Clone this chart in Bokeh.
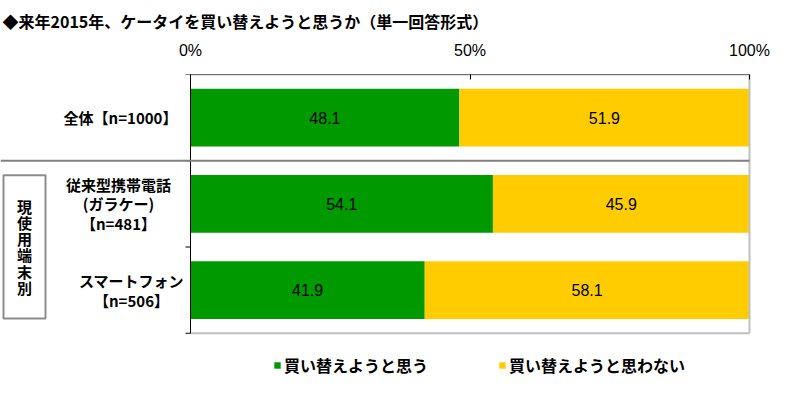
import math
from bokeh.plotting import figure
from bokeh.models import Range1d, FixedTicker, ColumnDataSource, Legend, LegendItem
from bokeh.embed import file_html
from bokeh.resources import INLINE
from bokeh.core.properties import value

# ---------------- data ----------------
title_text = "◆来年2015年、ケータイを買い替えようと思うか（単一回答形式）"
category_lines = [
    ["全体【n=1000】"],
    ["従来型携帯電話", "(ガラケー)", "【n=481】"],
    ["スマートフォン", "【n=506】"],
]
group_label = "現使用端末別"
series_names = ["買い替えようと思う", "買い替えようと思わない"]
yes_values = [48.1, 54.1, 41.9]
no_values = [51.9, 45.9, 58.1]
x_ticks = [0, 50, 100]
x_tick_labels = ["0%", "50%", "100%"]

# ---------------- layout / style ----------------
colors = ["#009900", "#FFCC00"]
JP = "Noto Sans CJK JP"
NUM = "Liberation Sans"
W, H = 786, 394
LEFT, RIGHT, TOP, BOTTOM = 190, 749, 70, 332   # chart area in canvas pixels
n = len(category_lines)
BAR_W = RIGHT - LEFT
BAND = (BOTTOM - TOP) / n


def X(px):
    return (px - LEFT) * 100 / BAR_W


def Y(py):
    return (BOTTOM - py) / BAND


ypos = [n - i - 0.5 for i in range(n)]

p = figure(width=W, height=H, output_backend="svg", toolbar_location=None,
           x_range=Range1d(X(0), X(W)), y_range=Range1d(Y(H), n),
           x_axis_location="above", y_axis_location=None,
           min_border_left=0, min_border_right=0,
           min_border_top=TOP, min_border_bottom=0)
p.xgrid.visible = False
p.ygrid.visible = False
p.outline_line_color = None
p.background_fill_color = "white"
p.border_fill_color = "white"

# title
p.title.text = title_text
p.title.align = "left"
p.title.offset = 2
p.title.text_font = JP
p.title.text_font_style = "bold"
p.title.text_font_size = "16px"
p.title.text_color = "black"
p.title.standoff = 12

# top percentage axis
xa = p.xaxis[0]
xa.ticker = FixedTicker(ticks=x_ticks)
xa.major_label_overrides = {t: l for t, l in zip(x_ticks, x_tick_labels)}
xa.major_tick_in = 5
xa.major_tick_out = 0
xa.minor_tick_line_color = None
xa.axis_line_color = None
xa.major_tick_line_color = "black"
xa.major_label_text_font = NUM
xa.major_label_text_font_size = "16px"
xa.major_label_text_color = "black"
xa.major_label_standoff = 16

# bars
src = ColumnDataSource(dict(
    y=ypos, yes=yes_values, no=no_values,
    yes_mid=[v / 2 for v in yes_values],
    no_mid=[a + b / 2 for a, b in zip(yes_values, no_values)],
    yes_txt=[f"{v:.1f}" for v in yes_values],
    no_txt=[f"{v:.1f}" for v in no_values],
))
rs = p.hbar_stack(["yes", "no"], y="y", height=0.67, color=colors,
                  line_color=None, source=src)
for xcol, tcol in (("yes_mid", "yes_txt"), ("no_mid", "no_txt")):
    p.text(x=xcol, y="y", text=tcol, source=src, text_align="center",
           text_baseline="middle", text_font=value(NUM),
           text_font_size="16px", text_color="black")

# plot-area frame
p.segment(x0=[0, 100, 0], y0=[n, 0, 0], x1=[100, 100, 100], y1=[n, n, 0],
          line_color="#C0C0C0", line_width=2)
p.segment(x0=[0, 0], y0=[n, 0], x1=[100, 0], y1=[n, n],
          line_color="black", line_width=1)
p.ray(x=[0] * (n + 1), y=list(range(n + 1)), length=5, length_units="screen",
      angle=math.pi, line_color="black", line_width=1)

# separator between total and breakdown rows
p.segment(x0=[X(0)], y0=[n - 1], x1=[100], y1=[n - 1],
          line_color="#808080", line_width=2)

# group box with vertical label
p.quad(left=[X(3)], right=[X(45)], top=[Y(172)], bottom=[Y(317)],
       fill_color=None, line_color="#8C8C8C", line_width=2)
p.text(x=[X(24)] * len(group_label),
       y=[Y(203.25 + k * 16.5) for k in range(len(group_label))],
       text=list(group_label), text_align="center", text_baseline="middle",
       text_font=value(JP), text_font_style="bold", text_font_size="15px",
       text_color="black")

# category labels
label_cx = [120, 118, 131]
pitch = 20 / BAND
lx, ly, lt = [], [], []
for i, lines in enumerate(category_lines):
    m = len(lines)
    for j, line in enumerate(lines):
        lx.append(X(label_cx[i]))
        ly.append(ypos[i] + ((m - 1) / 2 - j) * pitch)
        lt.append(line)
p.text(x=lx, y=ly, text=lt, text_align="center", text_baseline="middle",
       text_font=value(JP), text_font_style="bold", text_font_size="15px",
       text_color="black")

legend = Legend(items=[LegendItem(label=series_names[i], renderers=[rs[i]])
                       for i in range(2)],
                orientation="horizontal", location=(273, 17),
                glyph_width=8, glyph_height=8, label_standoff=3,
                spacing=70, padding=0, margin=0,
                border_line_color=None, background_fill_alpha=0,
                label_text_font=JP, label_text_font_style="bold",
                label_text_font_size="16px", label_text_color="black")
p.add_layout(legend)

open("out.html", "w").write(file_html(p, INLINE))
